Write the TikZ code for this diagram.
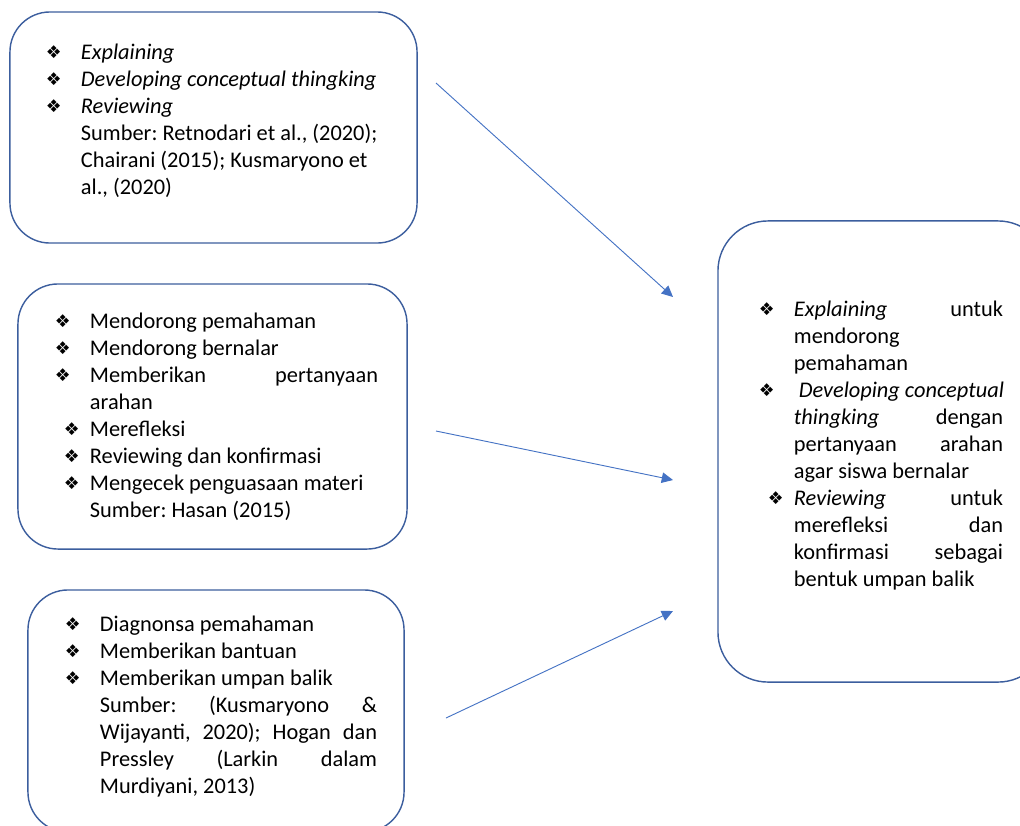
\documentclass[tikz,border=0pt]{standalone}
\usepackage{fontspec}
\setmainfont{Carlito}
\newfontfamily\dejavu{DejaVu Sans}
\usetikzlibrary{arrows.meta}

\definecolor{boxline}{RGB}{60,94,158}
\definecolor{arrowblue}{RGB}{68,114,196}

\newlength\bulw
\setlength\bulw{0.875cm}
% bullet with optional shift, then text at fixed indent
\newcommand{\bul}[1][0pt]{\makebox[\bulw][l]{\hspace*{#1}\raisebox{0.3pt}{\dejavu\fontsize{12.5}{12.5}\selectfont ❖}}}
\newcommand{\ind}{\hspace*{\bulw}}
\newcommand{\jst}[2]{\makebox[#1][s]{#2}}
% extra depth under the last line, lifts the text in its box
\newcommand{\lift}[1]{\rule[-#1]{0pt}{0pt}}

\begin{document}
\begin{tikzpicture}[
x=0.025cm, y=-0.025cm,
box/.style={draw=boxline, line width=1pt, rounded corners=1cm, align=flush left, inner ysep=0pt,
  font=\fontsize{15.9}{19.2}\selectfont\frenchspacing},
arrow/.style={-{Triangle[length=8pt, width=7.5pt]}, draw=arrowblue, line width=0.65pt}
]
\path[use as bounding box, fill=white] (0,0) rectangle (1020,825);

\node[box, minimum width=10.175cm, minimum height=5.775cm, inner xsep=0.9cm, text width=8.375cm] (strategy) at (213.5,127.5) {%
\bul\textit{Explaining}\\
\bul\textit{Developing conceptual thingking}\\
\bul\textit{Reviewing}\\
\ind Sumber: Retnodari et al., (2020);\\
\ind Chairani (2015); Kusmaryono et\\
\ind al., (2020)\lift{0.42cm}};

\node[box, minimum width=9.725cm, minimum height=6.625cm, inner xsep=0.925cm, text width=7.875cm] (steps) at (212.5,416.5) {%
\bul Mendorong pemahaman\\
\bul Mendorong bernalar\\
\bul\jst{7.2cm}{Memberikan pertanyaan}\\
\ind arahan\\
\bul[0.225cm]Merefleksi\\
\bul[0.225cm]Reviewing dan konfirmasi\\
\bul[0.225cm]Mengecek penguasaan materi\\
\ind Sumber: Hasan (2015)};

\node[box, minimum width=9.4cm, minimum height=6.05cm, inner xsep=0.925cm, text width=7.55cm] (assist) at (216,711) {%
\bul Diagnonsa pemahaman\\
\bul Memberikan bantuan\\
\bul Memberikan umpan balik\\
\ind\jst{6.925cm}{Sumber: (Kusmaryono \&}\\
\ind\jst{6.925cm}{Wijayanti, 2020); Hogan dan}\\
\ind\jst{6.925cm}{Pressley (Larkin dalam}\\
\ind Murdiyani, 2013)\lift{0.32cm}};

\node[box, rounded corners=1.25cm, minimum width=8.25cm, minimum height=11.525cm, inner xsep=1.025cm, text width=6.2cm] (synthesis) at (883,451.5) {%
\bul\jst{5.225cm}{\textit{Explaining} untuk}\\
\ind mendorong\\
\ind pemahaman\\
\bul\hspace*{0.12cm}\textit{Developing conceptual}\\
\ind\jst{5.225cm}{\textit{thingking} dengan}\\
\ind\jst{5.225cm}{pertanyaan arahan}\\
\ind agar siswa bernalar\\
\bul[0.225cm]\jst{5.225cm}{\textit{Reviewing} untuk}\\
\ind\jst{5.225cm}{merefleksi dan}\\
\ind\jst{5.225cm}{konfirmasi sebagai}\\
\ind bentuk umpan balik\lift{0.4cm}};

% free arrow ends
\coordinate (from1) at (436,83);
\coordinate (to1) at (673,297);
\coordinate (from2) at (436,431);
\coordinate (to2) at (673,480);
\coordinate (from3) at (446,718);
\coordinate (to3) at (673,611);

\draw[arrow] (from1) -- (to1);
\draw[arrow] (from2) -- (to2);
\draw[arrow] (from3) -- (to3);
\end{tikzpicture}
\end{document}
